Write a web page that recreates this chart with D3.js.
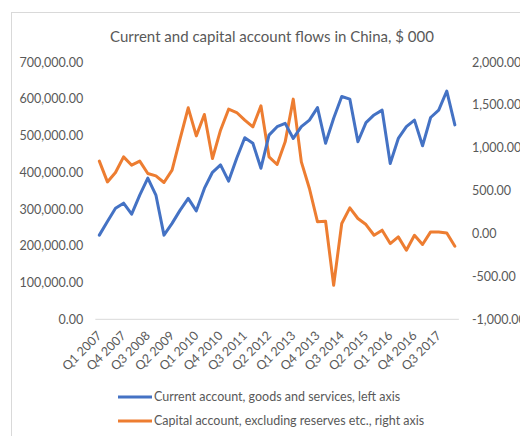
<!DOCTYPE html>
<html>
<head>
<meta charset="utf-8">
<script src="https://cdn.jsdelivr.net/npm/d3@7"></script>
<style>
  html, body { margin: 0; padding: 0; background: #ffffff; }
  svg { display: block; }
  text { font-family: Lato, "Open Sans", sans-serif; fill: #595959; }
</style>
</head>
<body>
<svg id="chart" width="520" height="436"></svg>
<script>
// ---- DATA ----
const quarters = [
  "Q1 2007","Q2 2007","Q3 2007","Q4 2007",
  "Q1 2008","Q2 2008","Q3 2008","Q4 2008",
  "Q1 2009","Q2 2009","Q3 2009","Q4 2009",
  "Q1 2010","Q2 2010","Q3 2010","Q4 2010",
  "Q1 2011","Q2 2011","Q3 2011","Q4 2011",
  "Q1 2012","Q2 2012","Q3 2012","Q4 2012",
  "Q1 2013","Q2 2013","Q3 2013","Q4 2013",
  "Q1 2014","Q2 2014","Q3 2014","Q4 2014",
  "Q1 2015","Q2 2015","Q3 2015","Q4 2015",
  "Q1 2016","Q2 2016","Q3 2016","Q4 2016",
  "Q1 2017","Q2 2017","Q3 2017","Q4 2017",
  "Q1 2018"
];
const shownQuarterLabels = [
  "Q1 2007","Q4 2007","Q3 2008","Q2 2009","Q1 2010","Q4 2010","Q3 2011",
  "Q2 2012","Q1 2013","Q4 2013","Q3 2014","Q2 2015","Q1 2016","Q4 2016","Q3 2017"
];
const currentAccount = [
  229000,266000,302000,316000,286000,338000,384000,338000,229000,261000,
  297000,329000,295000,356000,400000,420000,376000,438000,494000,479000,
  411000,501000,524000,533000,492000,524000,542000,576000,479000,547000,
  606000,599000,483000,535000,556000,569000,424000,492000,524000,542000,
  472000,549000,569000,621000,529000
];
const capitalAccount = [
  844,602,712,894,797,844,700,672,595,739,
  1108,1466,1139,1388,875,1205,1450,1411,1322,1244,
  1489,894,805,1069,1567,836,525,136,143,-603,
  117,299,175,105,-20,39,-117,-39,-195,-20,
  -128,19,19,7,-148
];
const leftTicks = [0,100000,200000,300000,400000,500000,600000,700000];
const rightTicks = [-1000,-500,0,500,1000,1500,2000];
const chartTitle = "Current and capital account flows in China, $ 000";
const seriesNames = [
  "Current account, goods and services, left axis",
  "Capital account, excluding reserves etc., right axis"
];
const seriesColors = ["#4472C4", "#ED7D31"];

// ---- LAYOUT ----
const plot = { left: 95.3, right: 458.9, top: 62, bottom: 319.3 };
const svg = d3.select("#chart");

svg.append("rect")
  .attr("x", 11.5).attr("y", 12.5)
  .attr("width", 600).attr("height", 600)
  .attr("fill", "#ffffff").attr("stroke", "#d9d9d9").attr("stroke-width", 1);

const fmt = d3.formatLocale({decimal: ".", thousands: ",", grouping: [3], currency: ["", ""], minus: "-"}).format(",.2f");

const x = d3.scaleBand().domain(quarters).range([plot.left, plot.right]).padding(0);
const cx = d => x(d) + x.bandwidth() / 2;
const yL = d3.scaleLinear().domain([0, 700000]).range([plot.bottom, plot.top]);
const yR = d3.scaleLinear().domain([-1000, 2000]).range([plot.bottom, plot.top]);

// title
svg.append("text")
  .attr("x", 272).attr("y", 42)
  .attr("text-anchor", "middle")
  .style("font-size", "15px")
  .text(chartTitle);

// baseline
svg.append("line")
  .attr("x1", plot.left).attr("x2", plot.right)
  .attr("y1", plot.bottom).attr("y2", plot.bottom)
  .attr("stroke", "#d9d9d9").attr("stroke-width", 1);

// left axis
const gL = svg.append("g").attr("transform", `translate(${plot.left},0)`)
  .call(d3.axisLeft(yL).tickValues(leftTicks).tickFormat(fmt).tickSize(0).tickPadding(12));
gL.select(".domain").remove();
gL.selectAll("text").style("font-size", "12.5px").style("font-family", null).attr("fill", "#595959");

// right axis
const gR = svg.append("g").attr("transform", `translate(${plot.right},0)`)
  .call(d3.axisRight(yR).tickValues(rightTicks).tickFormat(fmt).tickSize(0).tickPadding(13));
gR.select(".domain").remove();
gR.selectAll("text").style("font-size", "12.5px").style("font-family", null).attr("fill", "#595959");

// bottom axis
const gB = svg.append("g").attr("transform", `translate(0,${plot.bottom})`)
  .call(d3.axisBottom(x).tickValues(shownQuarterLabels).tickSize(0));
gB.select(".domain").remove();
gB.selectAll("text")
  .style("font-size", "12.5px").style("font-family", null).attr("fill", "#595959")
  .attr("x", 0).attr("y", 0).attr("dy", "0.35em")
  .attr("text-anchor", "end")
  .attr("transform", "translate(0,14) rotate(-45)");

// lines
const lineL = d3.line().x((d, i) => cx(quarters[i])).y(d => yL(d));
const lineR = d3.line().x((d, i) => cx(quarters[i])).y(d => yR(d));

svg.append("path").datum(capitalAccount)
  .attr("d", lineR).attr("fill", "none")
  .attr("stroke", seriesColors[1]).attr("stroke-width", 3)
  .attr("stroke-linejoin", "round").attr("stroke-linecap", "round");

svg.append("path").datum(currentAccount)
  .attr("d", lineL).attr("fill", "none")
  .attr("stroke", seriesColors[0]).attr("stroke-width", 3)
  .attr("stroke-linejoin", "round").attr("stroke-linecap", "round");

// legend
const legend = svg.append("g");
seriesNames.forEach((name, i) => {
  const ly = 397 + i * 24;
  legend.append("line")
    .attr("x1", 118).attr("x2", 152).attr("y1", ly).attr("y2", ly)
    .attr("stroke", seriesColors[i]).attr("stroke-width", 3);
  legend.append("text")
    .attr("x", 154).attr("y", ly).attr("dy", "0.35em")
    .style("font-size", "12.5px")
    .text(name);
});
</script>
</body>
</html>
